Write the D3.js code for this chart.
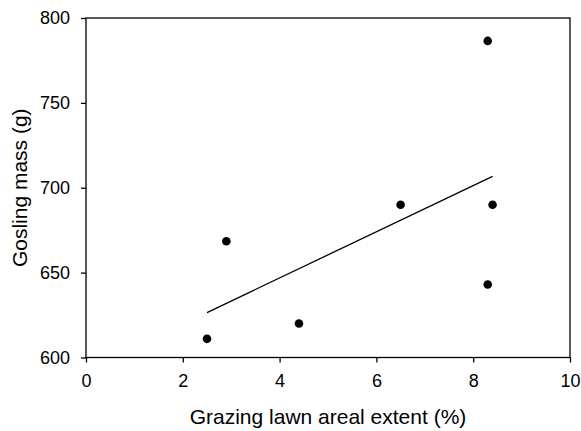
<!DOCTYPE html>
<html>
<head>
<meta charset="utf-8">
<script src="https://cdn.jsdelivr.net/npm/d3@7"></script>
<style>
  body { margin: 0; background: white; }
  text { font-family: "Liberation Sans", Arial, sans-serif; fill: black; }
</style>
</head>
<body>
<div id="container"></div>
<script>
// data
let lawnExtent = [2.5, 2.9, 4.4, 6.5, 8.3, 8.4, 8.3];
let goslingMass = [611, 668.5, 620, 690, 786.5, 690, 643];
let xTicks = [0, 2, 4, 6, 8, 10];
let yTicks = [600, 650, 700, 750, 800];

let width = 581, height = 431;
let plotLeft = 86, plotRight = 570, plotTop = 18, plotBottom = 357.5;

let svg = d3.select("#container").append("svg")
    .attr("width", width)
    .attr("height", height)

let x = d3.scaleLinear().domain([0, 10]).range([plotLeft, plotRight]);
let y = d3.scaleLinear().domain([600, 800]).range([plotBottom, plotTop]);

// frame
svg.append("rect")
    .attr("x", plotLeft)
    .attr("y", plotTop)
    .attr("width", plotRight - plotLeft)
    .attr("height", plotBottom - plotTop)
    .attr("fill", "none")
    .attr("stroke", "black")
    .attr("stroke-width", 1.3)

let xAxis = svg.append("g")
    .attr("transform", "translate(0," + plotBottom + ")")
    .call(d3.axisBottom(x).tickValues(xTicks).tickSizeOuter(0).tickSize(5).tickPadding(12))
xAxis.select(".domain").remove()
xAxis.selectAll("line").attr("stroke-width", 1.3)
xAxis.selectAll("text").attr("font-size", 18).attr("font-family", "Liberation Sans, Arial, sans-serif")

let yAxis = svg.append("g")
    .attr("transform", "translate(" + plotLeft + ",0)")
    .call(d3.axisLeft(y).tickValues(yTicks).tickSizeOuter(0).tickSize(5).tickPadding(11))
yAxis.select(".domain").remove()
yAxis.selectAll("line").attr("stroke-width", 1.3)
yAxis.selectAll("text").attr("font-size", 18).attr("font-family", "Liberation Sans, Arial, sans-serif")

// least squares fit line
let mx = d3.mean(lawnExtent), my = d3.mean(goslingMass);
let sxy = d3.sum(lawnExtent, (d, i) => (d - mx) * (goslingMass[i] - my));
let sxx = d3.sum(lawnExtent, d => (d - mx) * (d - mx));
let slope = sxy / sxx;
let intercept = my - slope * mx;
let x0 = d3.min(lawnExtent), x1 = d3.max(lawnExtent);

svg.append("line")
    .attr("x1", x(x0))
    .attr("y1", y(intercept + slope * x0))
    .attr("x2", x(x1))
    .attr("y2", y(intercept + slope * x1))
    .attr("stroke", "black")
    .attr("stroke-width", 1.3)

svg.selectAll("circle.pt").data(lawnExtent).enter()
    .append("circle")
    .attr("class", "pt")
    .attr("cx", d => x(d))
    .attr("cy", (d, i) => y(goslingMass[i]))
    .attr("r", 4.3)
    .attr("fill", "black")

svg.append("text")
    .attr("x", (plotLeft + plotRight) / 2)
    .attr("y", 424)
    .attr("text-anchor", "middle")
    .attr("font-size", 21)
    .text("Grazing lawn areal extent (%)")

svg.append("text")
    .attr("transform", "translate(27," + ((plotTop + plotBottom) / 2) + ") rotate(-90)")
    .attr("text-anchor", "middle")
    .attr("font-size", 21)
    .text("Gosling mass (g)")
</script>
</body>
</html>
